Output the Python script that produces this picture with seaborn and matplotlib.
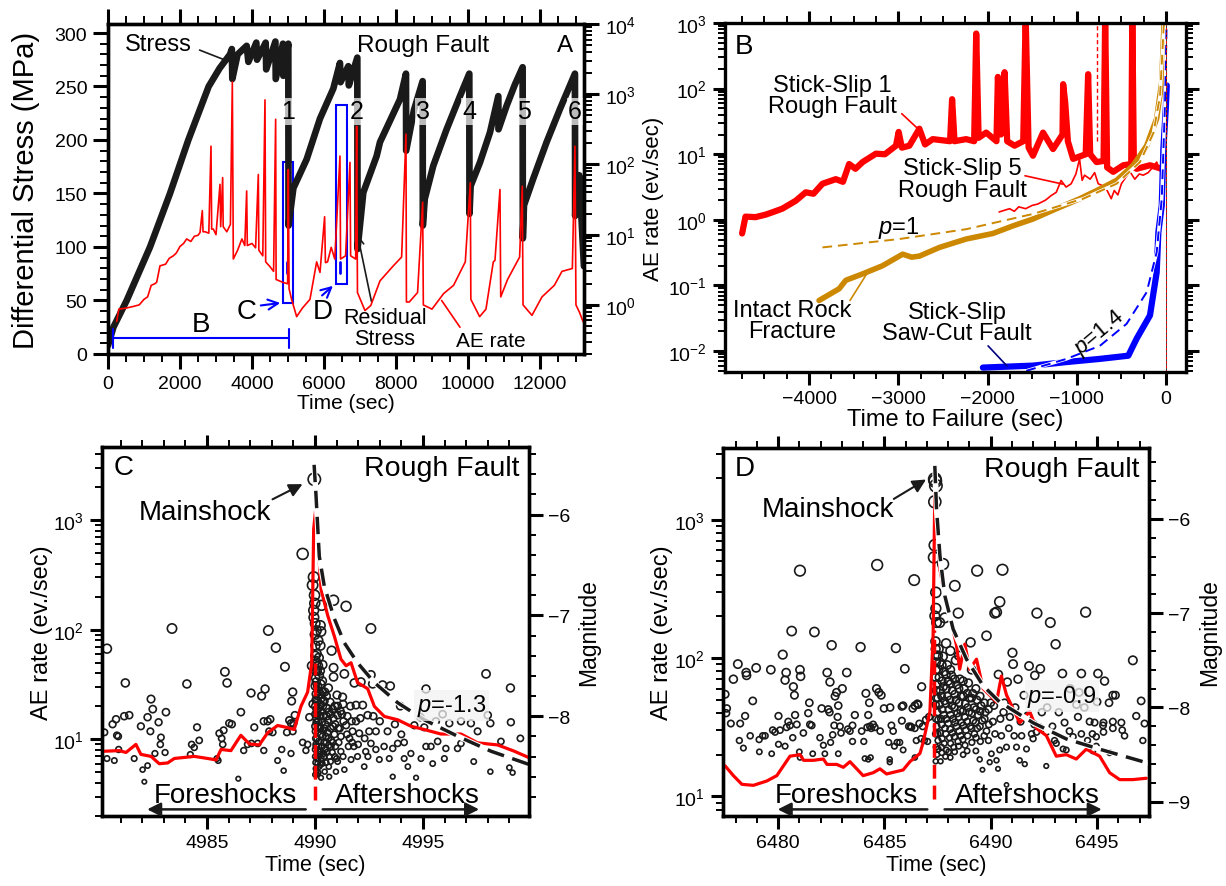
import seaborn as sns
import matplotlib.pyplot as plt
from matplotlib.patches import Rectangle
from matplotlib.ticker import MultipleLocator, NullFormatter

# ---------------- data ----------------
# Panel A: differential stress (MPa) vs time (s)
a_stress = [(0, 8), (150, 25), (519, 50), (1167, 100), (1722, 150), (2231, 200), (2796, 250),
            (3100, 267), (3389, 280), (3440, 285), (3454, 257), (3600, 280), (3852, 288), (3900, 273),
            (4120, 291), (4140, 275), (4380, 291), (4395, 266), (4650, 292), (4660, 257), (4860, 290),
            (4870, 260), (5009, 290), (5015, 120), (5150, 155), (5519, 182), (5889, 220), (6259, 248),
            (6444, 272), (6460, 254), (6676, 269), (6690, 251), (6926, 277), (6932, 98), (7093, 151),
            (7463, 185), (7556, 198), (8111, 238), (8278, 262), (8283, 190), (8500, 228), (8741, 255),
            (8746, 120), (8800, 145), (9037, 176), (9407, 210), (9778, 241), (10037, 262), (10042, 131),
            (10074, 157), (10333, 179), (10611, 207), (10843, 241), (10848, 210), (11074, 232),
            (11306, 252), (11519, 268), (11524, 108), (11556, 139), (11815, 164), (12185, 198),
            (12556, 229), (12972, 262), (12977, 129), (13019, 145), (13093, 167), (13222, 82)]
# Panel A: AE rate (ev/s) vs time (s)
a_rate = [(241, 0.58), (300, 0.87), (500, 0.9), (700, 0.95), (867, 1.0), (1000, 1.2), (1100, 1.3),
          (1200, 1.9), (1300, 2.0), (1352, 2.1), (1444, 3.6), (1600, 3.8), (1700, 4.6), (1815, 5.0),
          (1900, 5.5), (2000, 6.8), (2100, 7.5), (2185, 8.7), (2300, 8.0), (2400, 9.5), (2500, 9.8),
          (2556, 10.7), (2620, 22), (2640, 11), (2700, 11), (2800, 10.5), (2861, 182), (2880, 12),
          (2926, 12), (3000, 10), (3111, 52), (3130, 13), (3185, 65), (3200, 13), (3300, 11),
          (3400, 14), (3454, 1500), (3481, 4.5), (3600, 6), (3720, 8.7), (3800, 7), (3852, 42),
          (3870, 7), (4000, 7.5), (4100, 6.5), (4176, 72), (4190, 6), (4300, 5), (4361, 830),
          (4380, 4.1), (4500, 3.5), (4600, 3.0), (4657, 440), (4670, 2.3), (4850, 2.1), (4990, 2.0),
          (5009, 85), (5030, 1.7), (5100, 1.2), (5241, 0.68), (5400, 0.9), (5611, 1.2), (5796, 4.1),
          (5889, 2.9), (6018, 18), (6040, 4.0), (6100, 4.1), (6200, 6.6), (6300, 4.5), (6444, 132),
          (6460, 4.5), (6600, 5.0), (6722, 107), (6740, 5.0), (6880, 4.5), (6907, 350), (6930, 1.5),
          (7139, 0.83), (7300, 0.98), (7556, 2.2), (7926, 3.6), (8157, 4.8), (8278, 270), (8290, 1.1),
          (8370, 1.1), (8600, 1.5), (8741, 29), (8760, 1.0), (9000, 0.87), (9324, 1.45), (9600, 1.9),
          (9926, 4.1), (10065, 55), (10080, 1.2), (10324, 0.68), (10500, 0.87), (10704, 4.1),
          (10750, 4.3), (10889, 44), (10910, 1.3), (11100, 2.3), (11435, 4.8), (11509, 49),
          (11530, 1.0), (11778, 0.71), (12056, 1.3), (12400, 1.9), (12611, 3.0), (12900, 3.3),
          (12972, 182), (13000, 1.0), (13100, 0.78), (13196, 0.58)]
a_events = ["1", "2", "3", "4", "5", "6"]
a_event_t = [5000, 6907, 8764, 10042, 11556, 12972]
a_box_c = (4870, 5148, 47.7, 179)   # t0, t1, s0, s1
a_box_d = (6333, 6648, 65.4, 233)
a_win_c = [(4981, 76), (4981, 86)]
a_win_d = [(6444, 76), (6444, 86)]
a_span_b = (148, 5037, 14.7)

# Panel B: AE rate vs time to failure (s)
b_ss1 = [(-4750, 0.62), (-4712, 1.12), (-4600, 1.10), (-4487, 1.20), (-4400, 1.32), (-4300, 1.48),
         (-4150, 1.95), (-4037, 2.63), (-3950, 2.5), (-3850, 3.55), (-3700, 4.17), (-3620, 3.8),
         (-3551, 7.1), (-3480, 6.0), (-3400, 7.6), (-3251, 10.2), (-3150, 10.0), (-3026, 13.5),
         (-2996, 21.9), (-2960, 12.6), (-2876, 13.5), (-2764, 24.5), (-2700, 14.1), (-2614, 17.0),
         (-2420, 15.8), (-2397, 69), (-2370, 15.8), (-2240, 17.0), (-2150, 15.8), (-2127, 692),
         (-2100, 17.8), (-2015, 21.4), (-1900, 15.8), (-1884, 151), (-1850, 20.0), (-1809, 178),
         (-1780, 15.8), (-1697, 13.5), (-1600, 15.8), (-1573, 1259), (-1540, 12.6), (-1491, 9.5),
         (-1378, 21.4), (-1266, 12.0), (-1160, 20.0), (-1153, 117), (-1130, 62), (-1100, 15.8),
         (-1041, 8.5), (-900, 10.0), (-873, 166), (-850, 10.0), (-779, 7.6), (-700, 7.9),
         (-682, 1259), (-660, 6.3), (-592, 5.4), (-479, 6.8), (-390, 7.1), (-378, 1259),
         (-360, 6.3), (-329, 6.0), (-180, 6.8), (-48, 6.0)]
b_ss5 = [(-1870, 1.32), (-1753, 1.48), (-1700, 1.35), (-1650, 1.58), (-1573, 1.48), (-1500, 1.66),
         (-1438, 1.74), (-1350, 2.0), (-1288, 2.34), (-1230, 2.63), (-1176, 3.98), (-1120, 3.16),
         (-1063, 3.55), (-1010, 5.0), (-969, 8.5), (-940, 4.0), (-913, 4.8), (-850, 4.17),
         (-800, 5.25), (-760, 3.55), (-708, 3.3), (-660, 2.8), (-614, 2.1), (-580, 2.8), (-540, 2.4),
         (-500, 3.55), (-450, 4.5), (-404, 5.4), (-350, 4.17), (-300, 5.0), (-255, 4.8),
         (-200, 5.25), (-150, 6.3), (-105, 7.6), (-70, 5.6), (-48, 6.3)]
b_intact = [(-3888, 0.059), (-3663, 0.089), (-3588, 0.12), (-3400, 0.15), (-3176, 0.20),
            (-2951, 0.30), (-2850, 0.27), (-2764, 0.28), (-2539, 0.38), (-2240, 0.51),
            (-1940, 0.62), (-1715, 0.81), (-1491, 1.03), (-1228, 1.48), (-966, 2.1), (-742, 2.95),
            (-554, 4.0), (-367, 6.8), (-217, 13.5), (-105, 35), (-48, 126), (-22, 1000)]
b_intact_fit = [(-3850, 0.38), (-2989, 0.51), (-2240, 0.72), (-1491, 1.23), (-929, 2.1),
                (-554, 3.55), (-292, 7.6), (-142, 21), (-67, 78), (-30, 690), (-18, 1259)]
b_sawcut = [(-2052, 0.0056), (-1491, 0.0060), (-1116, 0.0068), (-742, 0.0076), (-423, 0.0085),
            (-329, 0.0155), (-180, 0.035), (-105, 0.158), (-86, 0.65), (-48, 1.66), (-30, 12),
            (-3, 49), (8, 112)]
b_sawcut_fit = [(-1566, 0.0050), (-1116, 0.0076), (-742, 0.012), (-442, 0.026), (-217, 0.079),
                (-105, 0.32), (-48, 2.1), (-10, 69), (8, 1259)]
b_ss5_fail = [(-775, 16), (-775, 1000)]

# Panel C: zoom on stick-slip 1
c_rate = [(4980.25, 7.8), (4980.94, 7.9), (4981.25, 7.6), (4981.71, 9.0), (4981.94, 7.3),
          (4982.41, 7.0), (4982.79, 6.0), (4983.18, 6.1), (4983.49, 6.7), (4984.41, 7.0),
          (4985.03, 6.7), (4985.42, 6.5), (4985.65, 8.1), (4986.11, 7.9), (4986.34, 9.3),
          (4986.57, 10.9), (4986.96, 9.1), (4987.42, 8.9), (4987.81, 11.5), (4988.27, 13.4),
          (4988.66, 12.9), (4989.04, 12.3), (4989.35, 20), (4989.66, 27), (4989.85, 50),
          (4989.94, 832), (4990.05, 1350), (4990.15, 589), (4990.28, 234), (4990.59, 135),
          (4990.9, 87), (4991.2, 54), (4991.44, 47), (4991.67, 50), (4991.97, 33), (4992.44, 29),
          (4992.75, 20), (4993.21, 16.2), (4993.83, 15.1), (4994.44, 13.2), (4995.06, 12.3),
          (4995.83, 11.2), (4996.76, 11.2), (4997.53, 9.3), (4998.46, 8.9), (4999.23, 7.8),
          (4999.92, 6.8)]
c_fit = [(4989.96, 3200), (4990.05, 1660), (4990.2, 468), (4990.43, 251), (4990.9, 126),
         (4991.36, 76), (4991.97, 50), (4992.75, 33), (4993.83, 21.6), (4995.06, 15.1),
         (4996.6, 10.7), (4998.15, 7.8), (4999.92, 5.9)]
c_main_t = [(4990.0, 2.8), (4990.0, 50)]
c_events = [
    (4980.37, -7.33), (4980.25, -8.16), (4980.37, -8.42), (4980.71, -8.44), (4980.63, -8.08),
    (4980.79, -8.03), (4980.83, -8.19), (4980.89, -8.20), (4980.91, -8.33), (4981.22, -7.67),
    (4981.17, -8.00), (4981.40, -7.99), (4981.63, -8.42), (4981.94, -8.10), (4982.02, -8.53),
    (4982.10, -8.65), (4982.25, -8.49), (4982.25, -8.01), (4982.38, -8.15), (4982.41, -7.83),
    (4982.49, -7.93), (4982.59, -8.37), (4982.76, -8.06), (4982.87, -8.21), (4982.84, -8.28),
    (4983.06, -8.36), (4983.10, -7.96), (4983.38, -7.13), (4984.07, -7.68), (4984.23, -8.38),
    (4984.29, -8.28), (4984.41, -8.31), (4984.54, -8.11), (4984.64, -8.24), (4985.46, -8.42),
    (4985.52, -8.44), (4985.57, -8.17), (4985.68, -8.22), (4985.73, -8.28), (4985.77, -8.14),
    (4985.83, -7.56), (4985.93, -7.67), (4986.03, -8.07), (4986.15, -8.08), (4986.45, -8.62),
    (4986.57, -7.96), (4986.70, -8.34), (4986.88, -8.28), (4987.04, -7.77), (4987.06, -8.27),
    (4987.19, -8.11), (4987.35, -8.27), (4987.53, -7.80), (4987.63, -8.05), (4987.69, -7.73),
    (4987.63, -8.34), (4987.81, -8.05), (4987.84, -7.15), (4987.88, -8.15), (4987.93, -8.03),
    (4988.04, -8.16), (4988.19, -7.32), (4988.27, -8.44), (4988.46, -8.33), (4988.55, -8.54),
    (4988.61, -7.51), (4988.70, -8.16), (4988.81, -8.04), (4988.89, -8.37), (4988.92, -7.85),
    (4988.97, -7.76), (4988.97, -8.15), (4988.89, -8.07), (4989.00, -8.07), (4989.07, -7.99),
    (4989.43, -8.26), (4989.43, -6.39), (4989.58, -8.34), (4989.66, -8.28), (4989.74, -8.01),
    (4989.85, -7.50), (4989.90, -7.88),
    (4989.97, -5.65), (4989.94, -6.62), (4989.89, -6.70), (4989.94, -6.95), (4989.95, -7.02),
    (4989.98, -6.80), (4989.99, -6.88), (4990.01, -7.08), (4990.00, -7.19), (4990.25, -7.10),
    (4990.31, -6.90), (4990.28, -7.16), (4990.86, -6.85), (4991.44, -6.91), (4992.59, -7.13),
    (4990.77, -7.35), (4990.35, -7.49), (4990.86, -7.61), (4991.36, -7.58), (4990.86, -7.52),
    (4991.82, -7.67), (4992.13, -7.66), (4992.59, -7.59), (4992.67, -7.68), (4993.13, -7.69),
    (4993.49, -7.70), (4993.95, -7.90), (4995.14, -7.73), (4997.92, -7.58), (4999.05, -7.72),
    (4998.00, -7.99), (4995.91, -7.98), (4994.88, -8.01), (4991.02, -7.79), (4991.28, -7.81),
    (4991.64, -7.90), (4991.90, -7.89), (4992.21, -7.89), (4992.44, -7.99), (4991.05, -7.99),
    (4991.44, -8.09), (4991.74, -8.15), (4992.05, -8.17), (4992.51, -8.15), (4992.82, -8.15),
    (4993.36, -8.15), (4994.60, -8.09), (4995.06, -8.11), (4995.60, -8.05), (4996.22, -8.07),
    (4996.76, -8.05), (4997.22, -8.07), (4997.53, -8.15), (4998.12, -8.07), (4999.07, -8.06),
    (4998.61, -8.25), (4999.51, -8.22), (4993.83, -8.27), (4993.60, -8.32), (4994.13, -8.26),
    (4994.44, -8.37), (4995.14, -8.30), (4995.37, -8.30), (4995.68, -8.25), (4996.06, -8.32),
    (4996.60, -8.32), (4996.76, -8.27), (4992.59, -8.27), (4992.82, -8.33), (4992.98, -8.43),
    (4993.44, -8.42), (4994.13, -8.42), (4994.91, -8.42), (4995.45, -8.47), (4995.99, -8.42),
    (4997.35, -8.45), (4998.12, -8.55), (4999.00, -8.51), (4999.15, -8.56), (4993.60, -8.60),
    (4994.68, -8.61), (4991.97, -8.40), (4992.28, -8.50), (4991.67, -8.43), (4991.36, -8.53),
    (4990.97, -8.55), (4990.66, -8.60), (4990.28, -8.61),
    (4990.02, -7.30), (4990.04, -7.45), (4990.03, -7.62), (4990.05, -7.78), (4990.02, -7.90),
    (4990.06, -8.02), (4990.03, -8.15), (4990.05, -8.28), (4990.02, -8.40), (4990.04, -8.52),
    (4990.08, -7.38), (4990.10, -7.55), (4990.12, -7.70), (4990.09, -7.85), (4990.11, -7.97),
    (4990.13, -8.10), (4990.10, -8.22), (4990.14, -8.35), (4990.12, -8.47), (4990.09, -8.58),
    (4990.18, -7.42), (4990.20, -7.60), (4990.17, -7.75), (4990.22, -7.88), (4990.19, -8.00),
    (4990.21, -8.12), (4990.18, -8.25), (4990.23, -8.38), (4990.20, -8.50), (4990.27, -7.68),
    (4990.30, -7.82), (4990.26, -7.95), (4990.32, -8.06), (4990.28, -8.18), (4990.33, -8.30),
    (4990.29, -8.42), (4990.36, -7.90), (4990.40, -8.00), (4990.38, -8.14), (4990.42, -8.26),
    (4990.39, -8.37), (4990.45, -7.76), (4990.48, -8.08), (4990.50, -8.20), (4990.47, -8.33),
    (4990.52, -8.46), (4990.56, -7.92), (4990.60, -8.04), (4990.58, -8.16), (4990.63, -8.29),
    (4990.66, -8.40), (4990.70, -7.86), (4990.73, -8.12), (4990.76, -8.24), (4990.80, -8.36),
    (4990.85, -8.02), (4990.90, -8.18), (4990.95, -8.30), (4991.00, -8.42), (4991.10, -8.26),
    (4991.15, -8.12), (4991.20, -8.35), (4991.25, -7.98), (4991.55, -8.30), (4991.60, -8.22),
    (4991.80, -8.30), (4992.00, -8.28), (4992.35, -8.35), (4990.15, -7.25), (4990.07, -7.15),
    (4990.25, -7.30),
    (4990.01, -7.40), (4990.03, -7.55), (4990.01, -7.70), (4990.04, -7.84), (4990.02, -7.98),
    (4990.01, -8.10), (4990.04, -8.22), (4990.02, -8.33), (4990.03, -8.46), (4990.01, -8.58),
    (4990.07, -7.48), (4990.06, -7.66), (4990.08, -7.93), (4990.07, -8.06), (4990.06, -8.30),
    (4990.08, -8.42), (4990.07, -8.55), (4990.15, -7.50), (4990.14, -7.80), (4990.16, -7.92),
    (4990.15, -8.05), (4990.16, -8.30), (4990.15, -8.42), (4990.16, -8.56), (4990.24, -7.55),
    (4990.25, -7.78), (4990.24, -8.00), (4990.25, -8.12), (4990.24, -8.35), (4990.25, -8.48),
    (4990.34, -7.65), (4990.35, -7.76), (4990.35, -8.20), (4990.34, -8.47), (4990.43, -7.85),
    (4990.44, -8.12), (4990.43, -8.40), (4990.45, -8.55), (4990.53, -7.80), (4990.55, -8.00),
    (4990.53, -8.26), (4990.55, -8.36), (4990.62, -7.72), (4990.64, -7.96), (4990.62, -8.22),
    (4990.64, -8.50), (4990.72, -7.98), (4990.74, -8.30), (4990.72, -8.45), (4990.82, -7.93),
    (4990.84, -8.10), (4990.82, -8.26), (4990.92, -7.90), (4990.94, -8.08), (4990.92, -8.40),
    (4991.05, -7.90), (4991.08, -8.12), (4991.05, -8.45), (4991.18, -7.95), (4991.20, -8.20),
    (4991.30, -7.88), (4991.32, -8.05), (4991.30, -8.40), (4991.50, -8.00), (4991.48, -8.18),
    (4991.70, -8.05), (4991.72, -8.26), (4991.90, -8.05), (4992.10, -8.02), (4992.30, -8.22),
    (4992.45, -8.40), (4992.70, -8.00), (4993.00, -8.05), (4993.20, -8.30), (4993.70, -8.08),
    (4994.00, -8.18), (4994.30, -8.50)]

# Panel D: zoom on stick-slip 2 foreshock sequence
d_rate = [(6477.51, 16.6), (6477.90, 14.1), (6478.30, 12.2), (6478.84, 12.0), (6479.47, 12.9),
          (6479.94, 14.1), (6480.56, 19.5), (6481.03, 20), (6481.2, 18.2), (6481.66, 18.2),
          (6482.13, 18.6), (6482.3, 17), (6482.76, 17), (6483.07, 16.2), (6483.38, 17.8),
          (6484.0, 14.1), (6484.47, 14.8), (6484.79, 15.8), (6485.1, 14.5), (6485.57, 15.1),
          (6485.88, 15.5), (6486.2, 17.8), (6486.67, 20.4), (6486.82, 24.5), (6487.14, 41),
          (6487.29, 145), (6487.37, 1660), (6487.48, 955), (6487.61, 437), (6487.84, 282),
          (6488.08, 204), (6488.39, 123), (6488.54, 83), (6488.78, 126), (6489.01, 83),
          (6489.33, 98), (6489.64, 60), (6489.95, 54), (6490.27, 48), (6490.5, 74), (6490.74, 54),
          (6491.05, 43), (6491.36, 34), (6491.83, 41), (6492.15, 31), (6492.61, 27.5),
          (6493.08, 19.5), (6493.55, 20), (6494.02, 18.6), (6494.49, 21.9), (6495.12, 19.5),
          (6495.59, 14.8), (6496.06, 13.2), (6496.68, 13.2), (6497.31, 13.5)]
d_fit = [(6487.37, 2450), (6487.45, 1200), (6487.61, 550), (6487.84, 282), (6488.23, 162),
         (6488.86, 98), (6489.64, 63), (6490.42, 48), (6491.99, 34), (6493.55, 26),
         (6495.12, 21.9), (6497.38, 17.4)]
d_main_t = [(6487.35, 9.5), (6487.35, 160)]
d_events = [
    (6477.51, -7.86), (6477.59, -8.01), (6477.56, -8.06), (6477.90, -7.70), (6477.78, -8.17),
    (6478.11, -7.54), (6478.22, -8.17), (6478.18, -8.35), (6478.37, -8.43), (6478.45, -8.09),
    (6478.50, -7.63), (6478.52, -7.66), (6478.69, -8.30), (6478.81, -7.93), (6478.97, -7.58),
    (6479.11, -8.34), (6479.12, -8.47), (6479.28, -8.30), (6479.39, -8.30), (6479.66, -7.60),
    (6479.70, -8.49), (6479.75, -8.24), (6479.86, -8.26), (6480.02, -8.09), (6480.02, -8.39),
    (6480.09, -8.24), (6480.22, -7.44), (6480.33, -7.71), (6480.38, -7.63), (6480.33, -8.41),
    (6480.40, -8.21), (6480.48, -8.15), (6480.56, -8.19), (6480.64, -7.19), (6480.69, -8.32),
    (6480.72, -7.78), (6480.77, -7.87), (6480.80, -8.08), (6480.88, -8.18), (6481.00, -8.47),
    (6481.03, -6.55), (6481.03, -7.60), (6481.06, -7.67), (6481.03, -8.53), (6481.19, -8.27),
    (6481.42, -8.06), (6481.47, -7.95), (6481.50, -8.18), (6481.58, -8.19), (6481.63, -8.49),
    (6481.71, -7.20), (6481.97, -8.32), (6482.05, -8.01), (6482.13, -8.40), (6482.20, -8.49),
    (6482.31, -7.63), (6482.36, -8.02), (6482.42, -8.05), (6482.44, -7.73), (6482.47, -8.37),
    (6482.52, -7.34), (6482.57, -8.29), (6482.64, -8.19), (6482.68, -7.88), (6482.75, -7.84),
    (6482.80, -8.10), (6482.83, -7.98), (6482.83, -8.49), (6482.91, -8.20), (6482.96, -8.27),
    (6483.02, -7.80), (6483.23, -7.63), (6483.28, -8.23), (6483.38, -8.25), (6483.50, -8.36),
    (6483.50, -8.19), (6483.61, -8.08), (6483.88, -7.36), (6483.93, -8.25), (6484.03, -8.36),
    (6484.08, -8.54), (6484.13, -7.85), (6484.19, -8.21), (6484.24, -8.08), (6484.24, -8.55),
    (6484.29, -7.95), (6484.32, -8.20), (6484.35, -8.53), (6484.38, -8.22), (6484.47, -8.18),
    (6484.55, -8.21), (6484.63, -7.80), (6484.66, -6.49), (6484.74, -7.84), (6484.80, -8.25),
    (6484.85, -7.87), (6484.98, -8.01), (6485.20, -8.37), (6485.27, -8.00), (6485.25, -8.55),
    (6485.25, -8.58), (6485.33, -8.19), (6485.41, -8.25), (6485.47, -8.41), (6485.54, -7.37),
    (6485.60, -8.37), (6485.72, -8.37), (6485.82, -7.99), (6485.82, -8.14), (6485.88, -8.45),
    (6485.96, -7.59), (6486.23, -8.20), (6486.27, -8.21), (6486.33, -8.01), (6486.40, -6.65),
    (6486.43, -8.53), (6486.50, -8.35), (6486.59, -7.97), (6486.43, -7.98), (6486.55, -7.96),
    (6486.75, -7.78), (6485.88, -7.98), (6486.15, -8.20), (6486.43, -8.22), (6486.64, -8.17),
    (6486.80, -8.20), (6486.95, -8.13), (6487.10, -8.10), (6486.88, -8.35), (6486.72, -8.33),
    (6487.03, -8.36),
    (6487.37, -5.58), (6487.39, -5.60), (6487.42, -5.65), (6487.37, -5.82), (6487.37, -6.28),
    (6487.33, -6.41), (6487.76, -6.48), (6487.42, -6.78), (6488.31, -6.71), (6489.36, -6.55),
    (6490.55, -6.54), (6490.42, -6.88), (6490.27, -6.99), (6490.19, -7.00), (6488.47, -7.00),
    (6487.84, -7.05), (6487.42, -6.95), (6487.37, -7.03), (6487.45, -7.10), (6487.60, -7.10),
    (6489.80, -7.24), (6489.05, -7.31), (6492.17, -7.00), (6492.80, -7.10), (6493.05, -7.33),
    (6494.46, -6.99), (6496.68, -7.50), (6491.02, -7.42), (6491.05, -7.54), (6491.80, -7.56),
    (6492.33, -7.59), (6492.07, -7.66), (6493.37, -7.64), (6494.26, -7.64), (6495.04, -7.64),
    (6495.35, -7.72), (6490.78, -7.73), (6491.28, -7.70), (6490.36, -7.65), (6495.74, -7.87),
    (6495.86, -7.87), (6495.56, -7.95), (6497.07, -7.93), (6495.00, -7.94), (6494.15, -7.84),
    (6493.73, -7.80), (6494.03, -7.97), (6492.65, -8.00), (6491.56, -7.87), (6496.84, -8.09),
    (6496.14, -8.16), (6495.74, -8.15), (6495.30, -8.16), (6494.88, -8.16), (6494.65, -8.15),
    (6497.23, -8.17), (6495.28, -8.19), (6495.74, -8.22), (6496.18, -8.24), (6495.30, -8.26),
    (6496.29, -8.30), (6497.15, -8.35), (6494.96, -8.31), (6494.78, -8.28), (6494.26, -8.28),
    (6493.87, -8.31), (6493.47, -8.16), (6493.00, -8.35), (6493.08, -8.38), (6493.40, -8.44),
    (6493.55, -8.45), (6492.61, -8.26), (6492.30, -8.21), (6492.15, -8.26), (6491.99, -8.33),
    (6491.92, -8.28), (6491.68, -8.44), (6491.21, -8.42), (6490.74, -8.42), (6490.42, -8.45),
    (6490.03, -8.49), (6490.27, -8.56), (6491.36, -8.56), (6491.60, -8.60), (6490.34, -8.65),
    (6489.48, -8.55), (6489.95, -8.58), (6489.61, -8.66), (6492.61, -8.62), (6494.80, -8.46),
    (6495.59, -8.48), (6494.96, -8.41), (6490.74, -8.82),
    (6487.40, -7.30), (6487.45, -7.45), (6487.42, -7.60), (6487.48, -7.75), (6487.44, -7.90),
    (6487.50, -8.05), (6487.46, -8.20), (6487.52, -8.35), (6487.47, -8.50), (6487.55, -7.38),
    (6487.60, -7.52), (6487.58, -7.68), (6487.63, -7.82), (6487.60, -7.97), (6487.66, -8.12),
    (6487.62, -8.27), (6487.68, -8.42), (6487.64, -8.57), (6487.75, -7.46), (6487.80, -7.62),
    (6487.77, -7.78), (6487.83, -7.93), (6487.79, -8.08), (6487.85, -8.22), (6487.81, -8.38),
    (6487.87, -8.52), (6487.95, -7.55), (6488.00, -7.72), (6487.97, -7.88), (6488.03, -8.02),
    (6488.00, -8.17), (6488.06, -8.32), (6488.02, -8.47), (6488.15, -7.66), (6488.20, -7.82),
    (6488.17, -7.98), (6488.23, -8.12), (6488.19, -8.27), (6488.26, -8.42), (6488.35, -7.50),
    (6488.40, -7.76), (6488.37, -7.92), (6488.43, -8.06), (6488.39, -8.20), (6488.46, -8.36),
    (6488.55, -7.70), (6488.60, -7.88), (6488.57, -8.03), (6488.63, -8.16), (6488.59, -8.30),
    (6488.75, -7.80), (6488.80, -7.96), (6488.77, -8.10), (6488.83, -8.24), (6488.79, -8.40),
    (6488.95, -7.74), (6489.00, -7.90), (6488.97, -8.05), (6489.03, -8.20), (6489.15, -7.85),
    (6489.20, -8.00), (6489.17, -8.14), (6489.23, -8.28), (6489.35, -7.92), (6489.40, -8.08),
    (6489.37, -8.22), (6489.55, -7.98), (6489.60, -8.14), (6489.75, -8.05), (6489.80, -8.25),
    (6490.00, -7.95), (6490.10, -8.15), (6490.60, -8.05), (6490.90, -8.10), (6491.40, -8.15),
    (6491.10, -8.30), (6490.50, -8.30), (6488.10, -7.40), (6487.90, -7.32), (6488.50, -7.45),
    (6489.10, -7.60),
    (6487.41, -7.38), (6487.43, -7.52), (6487.41, -7.68), (6487.43, -7.82), (6487.41, -7.97),
    (6487.43, -8.12), (6487.41, -8.28), (6487.43, -8.42), (6487.41, -8.57), (6487.52, -7.45),
    (6487.53, -7.60), (6487.51, -7.90), (6487.53, -8.13), (6487.51, -8.28), (6487.53, -8.44),
    (6487.70, -7.55), (6487.71, -7.72), (6487.69, -7.88), (6487.71, -8.02), (6487.69, -8.18),
    (6487.71, -8.33), (6487.70, -8.48), (6487.90, -7.65), (6487.91, -7.80), (6487.89, -7.96),
    (6487.91, -8.12), (6487.89, -8.28), (6487.91, -8.45), (6488.10, -7.60), (6488.11, -7.75),
    (6488.09, -7.92), (6488.11, -8.08), (6488.09, -8.23), (6488.11, -8.38), (6488.10, -8.53),
    (6488.30, -7.70), (6488.31, -7.86), (6488.29, -8.00), (6488.31, -8.16), (6488.29, -8.31),
    (6488.30, -8.47), (6488.50, -7.80), (6488.51, -7.95), (6488.49, -8.10), (6488.51, -8.25),
    (6488.49, -8.41), (6488.70, -7.72), (6488.71, -7.88), (6488.69, -8.04), (6488.71, -8.19),
    (6488.69, -8.34), (6488.70, -8.50), (6488.90, -7.85), (6488.91, -8.00), (6488.89, -8.15),
    (6488.91, -8.30), (6488.89, -8.46), (6489.10, -7.90), (6489.11, -8.06), (6489.09, -8.22),
    (6489.11, -8.37), (6489.30, -7.80), (6489.31, -8.02), (6489.29, -8.16), (6489.31, -8.32),
    (6489.30, -8.46), (6489.50, -7.88), (6489.51, -8.04), (6489.49, -8.20), (6489.51, -8.36),
    (6489.70, -7.95), (6489.71, -8.12), (6489.69, -8.30), (6489.90, -8.02), (6489.91, -8.18),
    (6489.89, -8.35), (6490.15, -7.98), (6490.20, -8.28), (6490.45, -8.12), (6490.65, -7.95),
    (6490.85, -8.22), (6491.15, -8.00), (6491.45, -8.30), (6491.75, -8.08), (6492.05, -8.18),
    (6492.40, -8.05), (6492.90, -8.20), (6493.20, -8.05), (6493.70, -8.25), (6494.10, -8.10),
    (6494.55, -8.35), (6494.40, -8.00)]

# ---------------- style ----------------
sns.set_theme(style="ticks", rc={"axes.edgecolor": "black", "text.color": "black",
                                 "axes.labelcolor": "black", "xtick.color": "black",
                                 "ytick.color": "black"})
plt.rcParams['font.family'] = ['Liberation Sans', 'DejaVu Sans']
plt.rcParams['mathtext.fontset'] = 'custom'
plt.rcParams['mathtext.rm'] = 'Liberation Sans'
plt.rcParams['mathtext.it'] = 'Liberation Sans:italic'
plt.rcParams['axes.formatter.useoffset'] = False

GOLD = "#cc8800"


def line(ax, pts, **kw):
    x, y = zip(*pts)
    sns.lineplot(x=list(x), y=list(y), ax=ax, estimator=None, sort=False, **kw)


def style(ax, major=9, minor=5):
    for s in ax.spines.values():
        s.set_linewidth(2.4)
        s.set_color('black')
    ax.tick_params(which='major', direction='out', length=major, width=2.2, labelsize=14, pad=4)
    ax.tick_params(which='minor', direction='out', length=minor, width=1.4)


def events(ax, pts):
    t, m = zip(*pts)
    sns.scatterplot(x=list(t), y=list(m), size=list(m), sizes=(9, 80), size_norm=(-8.7, -5.6),
                    ax=ax, facecolor='none', edgecolor='k', linewidth=1.2, legend=False)


fig = plt.figure(figsize=(12.26, 8.87), dpi=100)
axA = fig.add_axes([0.0881, 0.5998, 0.3882, 0.3720])
axB = fig.add_axes([0.5914, 0.5795, 0.3760, 0.3934])
axC = fig.add_axes([0.0832, 0.0789, 0.3483, 0.4160])
axD = fig.add_axes([0.5897, 0.0789, 0.3475, 0.4149])

# ---------------- panel A ----------------
line(axA, a_stress, color='k', lw=4.8)
axA2 = axA.twinx()
axA2.set_yscale('log')
line(axA2, a_rate, color='red', lw=1.2)
axA.set_xlim(0, 13222)
axA.set_ylim(0, 308.4)
axA2.set_ylim(0.2, 1e4)
axA.xaxis.set_major_locator(MultipleLocator(2000))
axA.xaxis.set_minor_locator(MultipleLocator(500))
axA.yaxis.set_major_locator(MultipleLocator(50))
axA.yaxis.set_minor_locator(MultipleLocator(10))
style(axA, major=11, minor=6)
style(axA2, major=11, minor=6)
axA.tick_params(which='both', top=True)
axA2.yaxis.set_minor_formatter(NullFormatter())
axA.set_ylabel("Differential Stress (MPa)", fontsize=21)
axA.yaxis.set_label_coords(-0.143, 0.5)
axA.set_xlabel("Time (sec)", fontsize=15, labelpad=1)

axA.text(472, 290, "Stress", fontsize=17, ha='left', va='center')
axA.annotate("", xy=(3306, 274), xytext=(2472, 285),
             arrowprops=dict(arrowstyle='-', color='k', lw=1.2))
axA.text(8750, 289, "Rough Fault", fontsize=17.5, ha='center', va='center')
axA.text(12694, 289, "A", fontsize=17.5, ha='center', va='center')
for lab, t in zip(a_events, a_event_t):
    axA.text(t, 227, lab, fontsize=18, ha='center', va='center',
             bbox=dict(facecolor='white', alpha=0.7, edgecolor='none', pad=1))
for (t0, t1, s0, s1) in (a_box_c, a_box_d):
    axA.add_patch(Rectangle((t0, s0), t1 - t0, s1 - s0, fill=False, ec='blue', lw=1.5))
line(axA, a_win_c, color='blue', lw=2)
line(axA, a_win_d, color='blue', lw=2)
axA.text(3861, 40, "C", fontsize=20, ha='center', va='center')
axA.annotate("", xy=(4861, 48), xytext=(4167, 45),
             arrowprops=dict(arrowstyle='->', color='blue', lw=1.5, mutation_scale=18))
axA.text(5972, 40, "D", fontsize=20, ha='center', va='center')
axA.annotate("", xy=(6306, 65.4), xytext=(5889, 53),
             arrowprops=dict(arrowstyle='->', color='blue', lw=1.5, mutation_scale=18))
b0, b1, by = a_span_b
axA.plot([b0, b1], [by, by], color='blue', lw=1.5)
axA.plot([b0, b0], [6, 23], color='blue', lw=1.5)
axA.plot([b1, b1], [6, 23], color='blue', lw=1.5)
axA.text(2583, 28, "B", fontsize=20, ha='center', va='center')
axA.text(7694, 24.3, "Residual\nStress", fontsize=15.5, ha='center', va='center', linespacing=0.95)
axA.annotate("", xy=(6917, 114), xytext=(7333, 46.7),
             arrowprops=dict(arrowstyle='->', color='k', lw=1.2, mutation_scale=15))
axA.text(10630, 13, "AE rate", fontsize=15, ha='center', va='center')
axA.plot([9778, 9269], [25, 50], color='red', lw=1.2)

# ---------------- panel B ----------------
axB.set_yscale('log')
line(axB, b_ss1, color='red', lw=4.5)
line(axB, b_ss5, color='red', lw=1.2)
line(axB, b_intact, color=GOLD, lw=4)
line(axB, b_intact_fit, color='white', lw=2.5)
line(axB, b_intact_fit, color=GOLD, lw=1.4, linestyle=(0, (5, 3)))
line(axB, b_sawcut, color='blue', lw=4.5)
line(axB, b_sawcut_fit, color='white', lw=2.5)
line(axB, b_sawcut_fit, color='blue', lw=1.4, linestyle=(0, (5, 3)))
line(axB, b_ss5_fail, color='red', lw=1.0, linestyle=(0, (3, 2)))
axB.axvline(0, color='k', lw=0.6)
axB.axvline(0, color='red', lw=0.8, linestyle=(0, (2, 2)))
axB.set_xlim(-4941, 224)
axB.set_ylim(0.0048, 1000)
axB.xaxis.set_major_locator(MultipleLocator(1000))
axB.xaxis.set_minor_locator(MultipleLocator(250))
style(axB, major=9, minor=5)
axB.tick_params(which='both', top=True, right=True)
axB.yaxis.set_minor_formatter(NullFormatter())
axB.set_ylabel("AE rate (ev./sec)", fontsize=16)
axB.yaxis.set_label_coords(-0.132, 0.5)
axB.set_xlabel("Time to Failure (sec)", fontsize=17, labelpad=1)
axB.text(0.02, 0.935, "B", transform=axB.transAxes, fontsize=20, ha='left', va='center')
axB.text(-3742, 78, "Stick-Slip 1\nRough Fault", fontsize=17, ha='center', va='center',
         linespacing=0.95)
axB.plot([-2961, -2779], [41.5, 24.4], color='red', lw=1.2)
axB.text(-2286, 4.2, "Stick-Slip 5\nRough Fault", fontsize=17, ha='center', va='center',
         linespacing=0.95)
axB.plot([-1580, -1154], [4.7, 3.5], color='red', lw=1.2)
axB.text(-2992, 0.78, r"$p$=1", fontsize=17, ha='center', va='center')
axB.text(-4190, 0.029, "Intact Rock\nFracture", fontsize=17, ha='center', va='center',
         linespacing=0.95)
axB.plot([-3541, -3354], [0.059, 0.15], color=GOLD, lw=1.2)
axB.text(-2342, 0.027, "Stick-Slip\nSaw-Cut Fault", fontsize=17, ha='center', va='center',
         linespacing=0.95)
axB.plot([-1994, -1781], [0.012, 0.0059], color='navy', lw=1.2)
axB.text(-740, 0.0196, r"$p$=1.4", fontsize=16, ha='center', va='center', rotation=40)


# ---------------- panels C and D ----------------
def zoom_panel(ax, rate, fit, main_t, evts, xlim, ylim, mlim, letter, ptxt, ppos,
               ms_txt, ms_arrow, fore, aft, ylab_x, mag_x):
    ax.set_yscale('log')
    ax2 = ax.twinx()
    events(ax2, evts)
    ax.set_zorder(ax2.get_zorder() + 1)
    ax.patch.set_visible(False)
    line(ax, rate, color='red', lw=2.3)
    line(ax, fit, color='white', lw=4)
    line(ax, fit, color='k', lw=2.5, linestyle=(0, (5, 2.5)))
    line(ax, main_t, color='red', lw=2.5, linestyle=(0, (4, 2)))
    ax.set_xlim(*xlim)
    ax.set_ylim(*ylim)
    ax2.set_ylim(*mlim)
    ax.xaxis.set_major_locator(MultipleLocator(5))
    ax.xaxis.set_minor_locator(MultipleLocator(1))
    ax2.yaxis.set_major_locator(MultipleLocator(1))
    ax2.yaxis.set_minor_locator(MultipleLocator(0.2))
    style(ax, major=9, minor=5)
    style(ax2, major=10, minor=5)
    ax.tick_params(which='both', top=True)
    ax.yaxis.set_minor_formatter(NullFormatter())
    ax.set_ylabel("AE rate (ev./sec)", fontsize=17)
    ax.yaxis.set_label_coords(ylab_x, 0.5)
    ax.set_xlabel("Time (sec)", fontsize=15.5, labelpad=2)
    ax2.set_ylabel("Magnitude", fontsize=16.5)
    ax2.yaxis.set_label_coords(mag_x, 0.5)
    ax.text(0.05, 0.946, letter, transform=ax.transAxes, fontsize=20, ha='center', va='center')
    ax.text(0.977, 0.944, "Rough Fault", transform=ax.transAxes, fontsize=20.5,
            ha='right', va='center')
    ax.text(ppos[0], ppos[1], ptxt, fontsize=17, ha='center', va='center',
            bbox=dict(facecolor='#f2f2f2', alpha=0.75, edgecolor='none', pad=2), zorder=5)
    ax.text(ms_txt[0], ms_txt[1], "Mainshock", fontsize=20, ha='center', va='center')
    ax.annotate("", xy=ms_arrow[1], xytext=ms_arrow[0],
                arrowprops=dict(arrowstyle='-|>', color='k', lw=1.5, mutation_scale=20))
    tr = ax.get_xaxis_transform()
    ax.text(fore[0], 0.038, "Foreshocks", transform=tr, fontsize=20, ha='center', va='baseline')
    ax.text(aft[0], 0.038, "Aftershocks", transform=tr, fontsize=20, ha='center', va='baseline')
    ax.annotate("", xy=(fore[2], 0.018), xytext=(fore[1], 0.018), xycoords=tr, textcoords=tr,
                arrowprops=dict(arrowstyle='-|>', color='k', lw=1.8, mutation_scale=20))
    ax.annotate("", xy=(aft[2], 0.018), xytext=(aft[1], 0.018), xycoords=tr, textcoords=tr,
                arrowprops=dict(arrowstyle='-|>', color='k', lw=1.8, mutation_scale=20))


zoom_panel(axC, c_rate, c_fit, c_main_t, c_events, (4980.14, 4999.91), (2.0, 4650), (-8.99, -5.33),
           "C", r"$p$=-1.3", (4996.34, 20.4), (4984.9, 1200),
           ((4987.92, 1510), (4989.54, 2190)), (4985.83, 4989.7, 4982.1),
           (4994.26, 4990.23, 4997.73), -0.115, 1.112)
zoom_panel(axD, d_rate, d_fit, d_main_t, d_events, (6477.41, 6497.44), (7.2, 3300), (-9.15, -5.25),
           "D", r"$p$=-0.9", (6493.35, 53), (6482.35, 1200),
           ((6485.33, 1380), (6487.07, 2000)), (6483.2, 6487.15, 6479.85),
           (6491.7, 6487.7, 6495.35), -0.117, 1.115)

fig.savefig("out.png", dpi=100)
